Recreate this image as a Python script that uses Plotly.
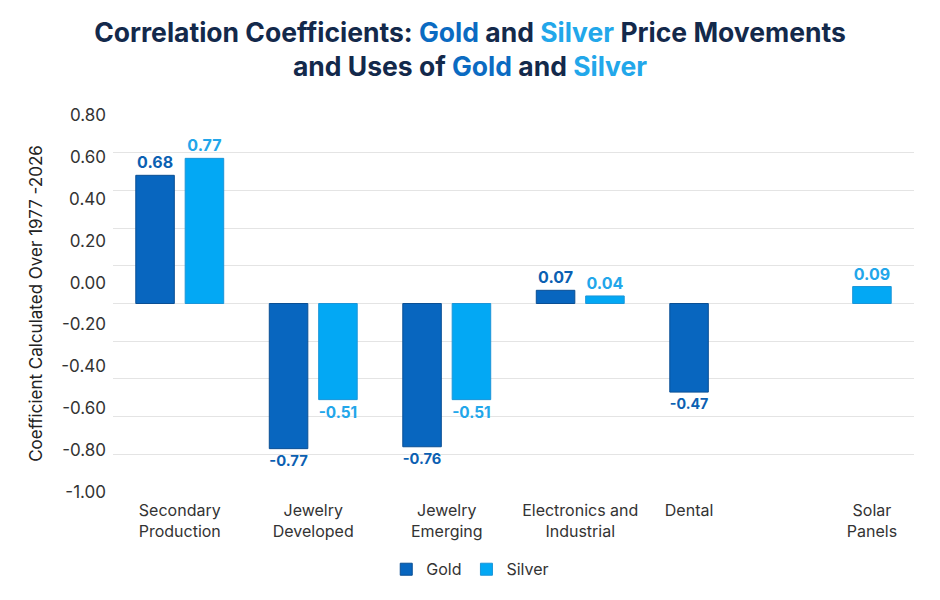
import numpy as np
import plotly.graph_objects as go

categories = ["Secondary<br>Production", "Jewelry<br>Developed", "Jewelry<br>Emerging",
              "Electronics and<br>Industrial", "Dental", "Solar<br>Panels"]
gold = [0.68, -0.77, -0.76, 0.07, -0.47, None]
silver = [0.77, -0.51, -0.51, 0.04, None, 0.09]
ytick_labels = ["0.80", "0.60", "0.40", "0.20", "0.00", "-0.20", "-0.40", "-0.60", "-0.80", "-1.00"]

GOLD_C = "#0866BF"
SILVER_C = "#03A8F4"
FONT = "Inter"

bargap = 0.26
bargroupgap = 0.22
x = np.arange(len(categories))
slot = (1 - bargap) / 2
tick_pos = []
for i, (g, s) in enumerate(zip(gold, silver)):
    if s is None:
        tick_pos.append(i - slot / 2)
    elif g is None:
        tick_pos.append(i + slot / 2)
    else:
        tick_pos.append(i)

fig = go.Figure()
fig.add_trace(go.Bar(
    x=x, y=gold, name="Gold", marker=dict(color=GOLD_C, line=dict(color="#0A4F94", width=1)),
    texttemplate="%{y:.2f}", textposition="outside", cliponaxis=False,
    textfont=dict(family=FONT, size=16, color="#0B60B2", weight="bold"),
))
fig.add_trace(go.Bar(
    x=x, y=silver, name="Silver", marker=dict(color=SILVER_C, line=dict(color="#1B95D8", width=1)),
    texttemplate="%{y:.2f}", textposition="outside", cliponaxis=False,
    textfont=dict(family=FONT, size=16, color="#22A6EA", weight="bold"),
))

title = ("<b>Correlation Coefficients: <span style='color:#0B6BC2'>Gold</span> and "
         "<span style='color:#22A7EA'>Silver</span> Price Movements<br>"
         "and Uses of <span style='color:#0B6BC2'>Gold</span> and "
         "<span style='color:#22A7EA'>Silver</span></b>")

fig.update_layout(
    width=940, height=600,
    paper_bgcolor="white", plot_bgcolor="white",
    margin=dict(l=113, r=26, t=115, b=108),
    font=dict(family=FONT, color="#333333"),
    title=dict(text=title, x=0.5, xanchor="center", y=0.93, yanchor="middle",
               font=dict(family=FONT, size=26.5, color="#13294B")),
    barmode="group", bargap=bargap, bargroupgap=bargroupgap,
    showlegend=True,
    legend=dict(orientation="h", x=0.446, xanchor="center", y=-0.16, yanchor="top",
                font=dict(family=FONT, size=16, color="#333333"), itemwidth=30),
    xaxis=dict(range=[-0.5, len(categories) - 0.5], tickvals=tick_pos, ticktext=categories,
               showgrid=False, zeroline=False, showline=False, ticks="", ticklabelstandoff=7,
               tickfont=dict(family=FONT, size=16, color="#333333")),
    yaxis=dict(range=[-1, 1], dtick=0.2, tick0=0, showticklabels=False, showgrid=True,
               gridcolor="#E4E4E4", gridwidth=1, zeroline=False, ticks=""),
    yaxis2=dict(overlaying="y", side="left", range=[-1, 1],
                tickvals=np.linspace(1, -1, len(ytick_labels)), ticktext=ytick_labels,
                showgrid=False, zeroline=False, showline=False, ticks="", ticklabelstandoff=6,
                tickfont=dict(family=FONT, size=17, color="#333333"),
                title=dict(text="Coefficient Calculated Over 1977 -2026", standoff=14,
                           font=dict(family=FONT, size=17, color="#222222"))),
)
fig.add_trace(go.Scatter(x=[0], y=[0], yaxis="y2", mode="markers", marker=dict(opacity=0),
                         showlegend=False, hoverinfo="skip"))

fig.write_html("out.html")
